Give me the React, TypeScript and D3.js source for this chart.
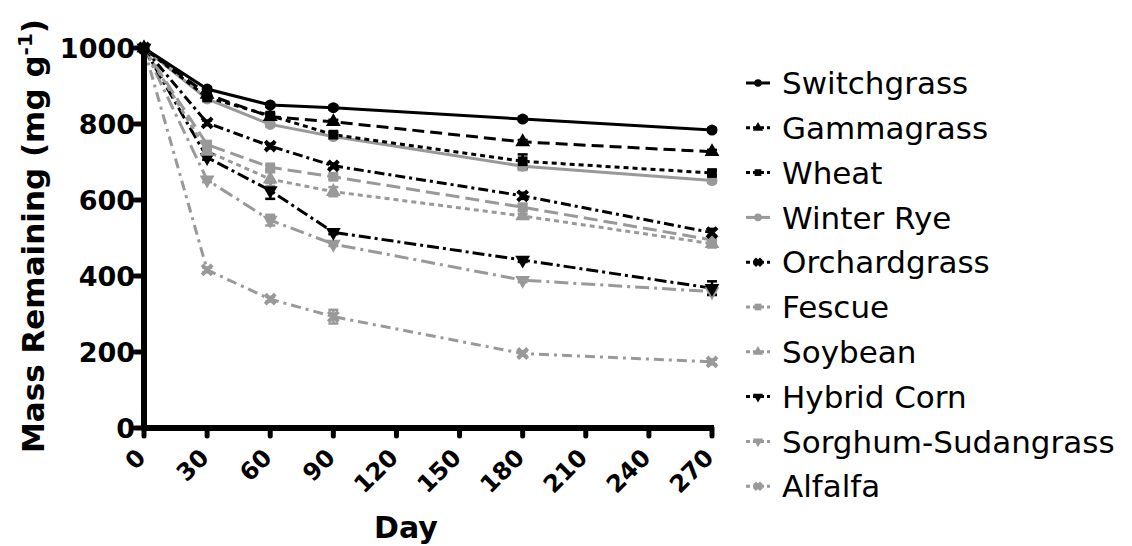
import React from "react";
import * as d3 from "d3";

const days = [0, 30, 60, 90, 180, 270];
const xTicks = [0, 30, 60, 90, 120, 150, 180, 210, 240, 270];
const yTicks = [0, 200, 400, 600, 800, 1000];

const seriesNames = [
  "Switchgrass", "Gammagrass", "Wheat", "Winter Rye", "Orchardgrass",
  "Fescue", "Soybean", "Hybrid Corn", "Sorghum-Sudangrass", "Alfalfa",
];

const switchgrass = [1000, 892, 850, 843, 813, 784];
const gammagrass = [1000, 878, 819, 806, 753, 727];
const wheat = [1000, 870, 822, 772, 702, 671];
const winterRye = [1000, 866, 799, 767, 689, 651];
const orchardgrass = [1000, 803, 742, 690, 611, 514];
const fescue = [1000, 746, 686, 661, 581, 495];
const soybean = [1000, 728, 655, 622, 558, 485];
const hybridCorn = [1000, 712, 625, 515, 442, 368];
const sorghum = [1000, 653, 547, 484, 389, 359];
const alfalfa = [1000, 416, 339, 293, 196, 174];

// standard errors per sampling day
const switchgrassErr = [0, 5, 5, 5, 5, 5];
const gammagrassErr = [0, 5, 6, 5, 5, 5];
const wheatErr = [0, 5, 6, 6, 18, 6];
const winterRyeErr = [0, 5, 5, 5, 10, 6];
const orchardgrassErr = [0, 6, 6, 6, 8, 10];
const fescueErr = [0, 6, 6, 6, 8, 12];
const soybeanErr = [0, 5, 18, 12, 6, 10];
const hybridCornErr = [0, 6, 22, 5, 5, 18];
const sorghumErr = [0, 6, 14, 5, 5, 6];
const alfalfaErr = [0, 6, 6, 18, 6, 6];

const values = [switchgrass, gammagrass, wheat, winterRye, orchardgrass, fescue, soybean, hybridCorn, sorghum, alfalfa];
const errors = [switchgrassErr, gammagrassErr, wheatErr, winterRyeErr, orchardgrassErr, fescueErr, soybeanErr, hybridCornErr, sorghumErr, alfalfaErr];

const BLACK = "#000";
const GREY = "#999";
const colors = [BLACK, BLACK, BLACK, GREY, BLACK, GREY, GREY, BLACK, GREY, GREY];
const dashes = ["", "12,6", "5,4", "", "10,4,3,4", "14,6", "5,4", "12,4,3,4", "14,5,3,5", "10,5,3,5"];
const shapes = ["circle", "triangle", "square", "circle", "cross", "square", "triangle", "triangleDown", "triangleDown", "cross"];

const symbolTypes: Record<string, d3.SymbolType> = {
  circle: d3.symbolCircle,
  triangle: d3.symbolTriangle,
  square: d3.symbolSquare,
  cross: d3.symbolX,
  triangleDown: d3.symbolTriangle,
};

function Marker({ shape, x, y, color, size }: { shape: string; x: number; y: number; color: string; size: number }) {
  const path = d3.symbol(symbolTypes[shape], size)() || "";
  const rot = shape === "triangleDown" ? 180 : 0;
  if (shape === "cross") {
    return (
      <path d={d3.symbol(d3.symbolX, size * 0.7)() || ""} transform={`translate(${x},${y})`}
        stroke={color} strokeWidth={4} fill="none" />
    );
  }
  return <path d={path} transform={`translate(${x},${y}) rotate(${rot})`} fill={color} />;
}

export default function App() {
  const width = 1132;
  const height = 546;
  const x0 = 144, x1 = 712, yTop = 48, yBot = 428;
  const x = d3.scaleLinear().domain([0, 270]).range([x0, x1]);
  const y = d3.scaleLinear().domain([0, 1000]).range([yBot, yTop]);
  const line = d3.line<number>().x((_, i) => x(days[i])).y((v) => y(v));
  const font = "'DejaVu Sans', Verdana, sans-serif";

  const legendY0 = 83;
  const legendStep = 44.8;

  return (
    <svg width={width} height={height} style={{ position: "absolute", left: 0, top: 0, background: "#fff" }} fontFamily={font}>
      {/* series lines, drawn bottom-first so the upper lines sit on top */}
      {values.map((vals, s) => (
        <path key={`l${s}`} d={line(vals) || ""} fill="none" stroke={colors[s]} strokeWidth={3}
          strokeDasharray={dashes[s] || undefined} />
      )).reverse()}
      {/* error bars */}
      {values.map((vals, s) => (
        <g key={`e${s}`} stroke={colors[s]} strokeWidth={2.5}>
          {vals.map((v, i) => errors[s][i] > 0 ? (
            <g key={i}>
              <line x1={x(days[i])} x2={x(days[i])} y1={y(v - errors[s][i])} y2={y(v + errors[s][i])} />
              <line x1={x(days[i]) - 5} x2={x(days[i]) + 5} y1={y(v - errors[s][i])} y2={y(v - errors[s][i])} />
              <line x1={x(days[i]) - 5} x2={x(days[i]) + 5} y1={y(v + errors[s][i])} y2={y(v + errors[s][i])} />
            </g>
          ) : null)}
        </g>
      )).reverse()}
      {/* markers */}
      {values.map((vals, s) => (
        <g key={`m${s}`}>
          {vals.map((v, i) => (
            <Marker key={i} shape={shapes[s]} x={x(days[i])} y={y(v)} color={colors[s]} size={95} />
          ))}
        </g>
      )).reverse()}

      {/* axes */}
      <line x1={x0} x2={x0} y1={yTop - 2} y2={yBot + 2} stroke="#000" strokeWidth={6} />
      <line x1={x0 - 2} x2={x1 + 2} y1={yBot} y2={yBot} stroke="#000" strokeWidth={6} />
      {yTicks.map((t) => (
        <g key={`yt${t}`}>
          <line x1={x0 - 9} x2={x0} y1={y(t)} y2={y(t)} stroke="#000" strokeWidth={5} strokeLinecap="round" />
          <text x={x0 - 9} y={y(t)} dy="0.36em" textAnchor="end" fontWeight="bold" fontSize={27}>{t}</text>
        </g>
      ))}
      {xTicks.map((t) => (
        <g key={`xt${t}`}>
          <line x1={x(t)} x2={x(t)} y1={yBot} y2={yBot + 8} stroke="#000" strokeWidth={5} strokeLinecap="round" />
          <text transform={`translate(${x(t) - 3},${yBot + 25}) rotate(-45)`} textAnchor="end" dy="0.36em"
            fontWeight="bold" fontSize={24}>{t}</text>
        </g>
      ))}
      <text x={406} y={538} textAnchor="middle" fontWeight="bold" fontSize={30}>Day</text>
      <text transform={`translate(44,236) rotate(-90)`} textAnchor="middle"
        fontWeight="bold" fontSize={31}>
        Mass Remaining (mg g<tspan dy="-12" fontSize={20}>-1</tspan><tspan dy="12">)</tspan>
      </text>

      {/* legend */}
      {seriesNames.map((name, s) => {
        const ly = legendY0 + s * legendStep;
        return (
          <g key={`lg${s}`}>
            <line x1={746} x2={770} y1={ly} y2={ly} stroke={colors[s]} strokeWidth={3}
              strokeDasharray={dashes[s] ? "4,3" : undefined} />
            <Marker shape={shapes[s]} x={758} y={ly} color={colors[s]} size={45} />
            <text x={782} y={ly} dy="0.36em" fontSize={31}>{name}</text>
          </g>
        );
      })}
    </svg>
  );
}
